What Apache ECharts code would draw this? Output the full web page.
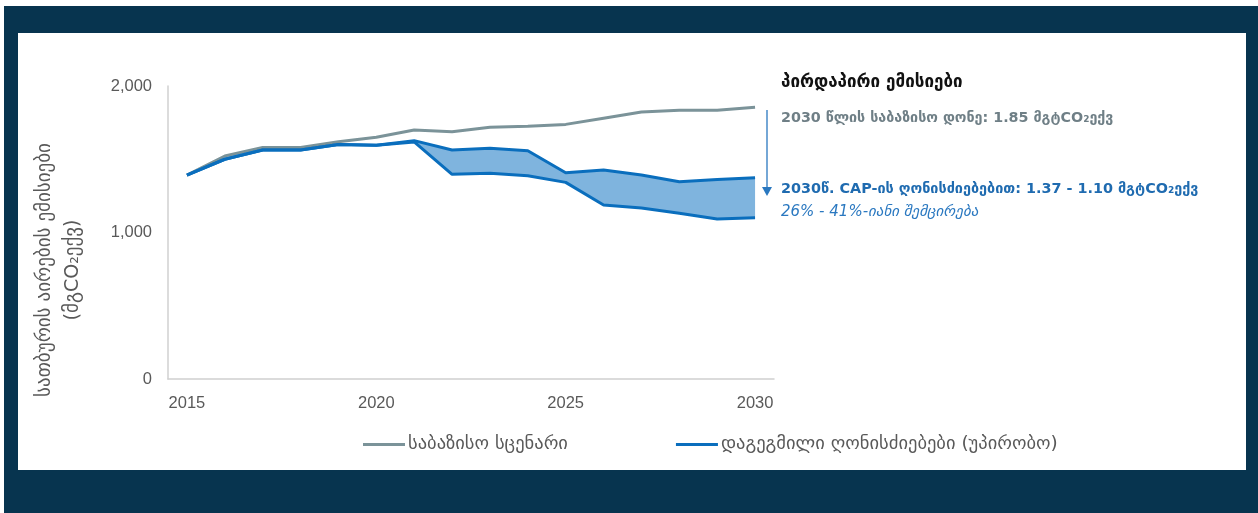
<!DOCTYPE html>
<html>
<head>
<meta charset="utf-8">
<script src="https://cdn.jsdelivr.net/npm/echarts@6/dist/echarts.min.js"></script>
<style>
  html, body { margin: 0; padding: 0; background: #ffffff; }
  #chart { width: 1258px; height: 513px; }
</style>
</head>
<body>
<div id="chart"></div>
<script>
// წლები
const years = ['2015', '2016', '2017', '2018', '2019', '2020', '2021', '2022',
  '2023', '2024', '2025', '2026', '2027', '2028', '2029', '2030'];
// საბაზისო სცენარი
const baseline = [1392, 1522, 1581, 1581, 1620, 1650, 1700, 1688,
  1718, 1725, 1738, 1780, 1822, 1834, 1834, 1855];
// დაგეგმილი ღონისძიებები - ზედა ზღვარი
const plannedHigh = [1392, 1500, 1563, 1563, 1600, 1595, 1627, 1563,
  1575, 1558, 1408, 1427, 1392, 1347, 1362, 1374];
// დაგეგმილი ღონისძიებები - ქვედა ზღვარი
const plannedLow = [1392, 1500, 1563, 1563, 1600, 1595, 1618, 1397,
  1404, 1388, 1342, 1188, 1167, 1131, 1092, 1101];
const yTicks = [0, 1000, 2000];

const names = ['საბაზისო სცენარი', 'დაგეგმილი ღონისძიებები (უპირობო)'];
const bandData = plannedHigh.map((v, i) => v - plannedLow[i]);

const GEO = '"DejaVu Sans", "Liberation Sans", sans-serif';
const blue = '#0a6ebd';
const grey = '#7b9399';

const chart = echarts.init(document.getElementById('chart'));

const option = {
  backgroundColor: '#ffffff',
  animation: false,
  grid: { left: 168, right: 484, top: 86, bottom: 134 },
  legend: {
    data: names,
    left: 358,
    top: 430,
    itemWidth: 42,
    itemHeight: 3,
    itemGap: 108,
    icon: 'rect',
    textStyle: { fontFamily: GEO, fontSize: 18.5, color: '#595959', padding: [0, 0, 0, -2] }
  },
  xAxis: {
    type: 'category',
    data: years,
    boundaryGap: true,
    axisLine: { lineStyle: { color: '#d0d0d0', width: 1.5 } },
    axisTick: { show: false },
    axisLabel: { interval: 4, color: '#595959', fontSize: 16.5, margin: 16, fontFamily: 'Liberation Sans' },
    splitLine: { show: false }
  },
  yAxis: {
    type: 'value',
    min: yTicks[0],
    max: yTicks[yTicks.length - 1],
    interval: 1000,
    axisLine: { show: true, lineStyle: { color: '#d0d0d0', width: 1.5 } },
    axisTick: { show: false },
    splitLine: { show: false },
    axisLabel: {
      color: '#595959', fontSize: 16.5, margin: 16, fontFamily: 'Liberation Sans',
      formatter: v => v.toLocaleString('en-US')
    }
  },
  series: [
    {
      name: 'low-base', type: 'line', stack: 'band', data: plannedLow,
      symbol: 'none', lineStyle: { opacity: 0 }, silent: true, z: 1
    },
    {
      name: 'band', type: 'line', stack: 'band', data: bandData,
      symbol: 'none', lineStyle: { opacity: 0 },
      areaStyle: { color: '#7fb4de', opacity: 1 }, silent: true, z: 1
    },
    {
      name: names[0], type: 'line', data: baseline,
      symbol: 'none', lineStyle: { color: grey, width: 3 }, itemStyle: { color: grey }, z: 2
    },
    {
      name: 'low', type: 'line', data: plannedLow,
      symbol: 'none', lineStyle: { color: blue, width: 3 }, itemStyle: { color: blue }, z: 3
    },
    {
      name: names[1], type: 'line', data: plannedHigh,
      symbol: 'none', lineStyle: { color: blue, width: 3 }, itemStyle: { color: blue }, z: 3
    }
  ],
  graphic: [
    // ჩარჩო
    { type: 'rect', z: -10, silent: true, shape: { x: 4, y: 6, width: 1254, height: 507 }, style: { fill: '#07344f' } },
    { type: 'rect', z: -9, silent: true, shape: { x: 18, y: 33, width: 1228, height: 437 }, style: { fill: '#ffffff' } },
    // y ღერძის სათაური
    {
      type: 'text', rotation: Math.PI / 2, x: 59, y: 270,
      style: {
        text: 'სათბურის აირების ემისიები\n(მგCO₂ექვ)',
        fontFamily: GEO, fontSize: 19, lineHeight: 28,
        fill: '#595959', align: 'center', verticalAlign: 'middle'
      }
    },
    // ანოტაციები
    {
      type: 'text', x: 781, y: 83,
      style: { text: 'პირდაპირი ემისიები', fontFamily: GEO, fontSize: 17, fontWeight: 'bold', fill: '#111111', verticalAlign: 'middle' }
    },
    {
      type: 'text', x: 781, y: 118,
      style: { text: '2030 წლის საბაზისო დონე: 1.85 მგტCO₂ექვ', fontFamily: GEO, fontSize: 14.3, fontWeight: 'bold', fill: '#6f7f86', verticalAlign: 'middle' }
    },
    {
      type: 'text', x: 781, y: 189,
      style: { text: '2030წ. CAP-ის ღონისძიებებით: 1.37 - 1.10 მგტCO₂ექვ', fontFamily: GEO, fontSize: 14.4, fontWeight: 'bold', fill: '#1f6bb0', verticalAlign: 'middle' }
    },
    {
      type: 'text', x: 781, y: 212,
      style: { text: '26% - 41%-იანი შემცირება', fontFamily: GEO, fontSize: 15, fontStyle: 'italic', fill: '#2a78c0', verticalAlign: 'middle' }
    },
    // ისარი
    { type: 'line', shape: { x1: 767, y1: 110, x2: 767, y2: 190 }, style: { stroke: '#2a78c0', lineWidth: 1.3 } },
    { type: 'polygon', shape: { points: [[762, 187], [772, 187], [767, 196]] }, style: { fill: '#2a78c0' } }
  ]
};

chart.setOption(option);
</script>
</body>
</html>
